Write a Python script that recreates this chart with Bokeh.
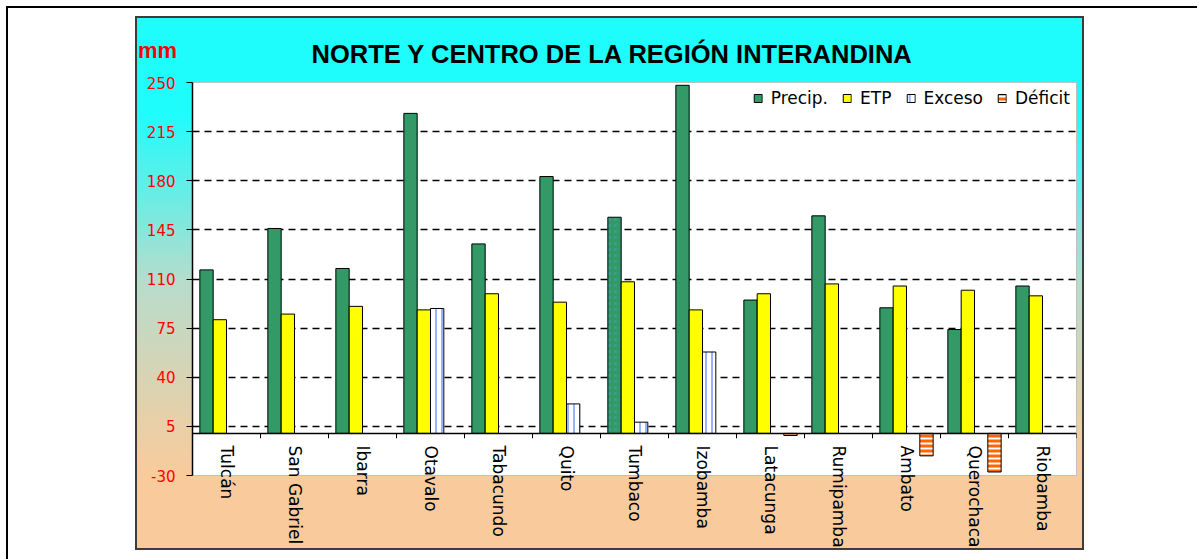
import math
from bokeh.plotting import figure
from bokeh.models import (ColumnDataSource, FactorRange, Range1d, FixedTicker, Title, Span, Div)
from bokeh.layouts import column
from bokeh.transform import dodge
from bokeh.embed import file_html
from bokeh.resources import INLINE

nan = float("nan")

# ---- data ----
categories = ["Tulcán", "San Gabriel", "Ibarra", "Otavalo", "Tabacundo", "Quito", "Tumbaco",
              "Izobamba", "Latacunga", "Rumipamba", "Ambato", "Querochaca", "Riobamba"]
precip = [116.5, 146.0, 117.5, 228.0, 135.0, 183.0, 154.0, 248.0, 95.0, 155.0, 89.5, 74.0, 105.0]
etp = [81.0, 85.0, 90.5, 88.0, 99.5, 93.5, 108.0, 88.0, 99.5, 106.5, 105.0, 102.0, 98.0]
exceso = [nan, nan, nan, 89.0, nan, 21.0, 8.0, 58.0, nan, nan, nan, nan, nan]
deficit = [nan, nan, nan, nan, nan, nan, nan, nan, -1.5, nan, -16.0, -27.5, nan]
precip_pattern = [" ", " ", " ", " ", " ", " ", ".", " ", " ", " ", " ", " ", " "]
y_ticks = [-30, 5, 40, 75, 110, 145, 180, 215, 250]
grid_ticks = [5, 40, 75, 110, 145, 180, 215]

source = ColumnDataSource(dict(cat=categories, precip=precip, etp=etp, exceso=exceso,
                               deficit=deficit, pp=precip_pattern,
                               zero=[0] * len(categories), tick=[-3.5] * len(categories)))

W, H = 1203, 559
bg = ("linear-gradient(to bottom, #1ffcfc 0%, #1ffcfc 18%, #b8dccb 50%, #f9cb9c 86%, #f9cb9c 100%) "
      "137px 18px / 945px 530px no-repeat, "
      "linear-gradient(#3c3c3c, #3c3c3c) 135px 16px / 949px 534px no-repeat, "
      "linear-gradient(#000, #000) 6px 6px / 1191px 2px no-repeat, "
      "linear-gradient(#000, #000) 6px 6px / 2px 553px no-repeat, #ffffff")

p = figure(width=W, height=H, x_range=FactorRange(factors=categories), y_range=Range1d(-30, 250),
           output_backend="svg", toolbar_location=None,
           min_border_left=192, min_border_right=127, min_border_top=82, min_border_bottom=84,
           border_fill_color=None, background_fill_color="#ffffff",
           outline_line_color="#c0c0c0", outline_line_width=1,
           styles={"background": bg})

bw = 0.196
p.vbar(x=dodge("cat", -1.5 * bw, range=p.x_range), top="precip", width=bw, source=source,
       fill_color="#339966", line_color="black", line_width=1,
       hatch_pattern="pp", hatch_color="#3c9c9c", hatch_scale=6, hatch_weight=1.5,
       legend_label="Precip.")
p.vbar(x=dodge("cat", -0.5 * bw, range=p.x_range), top="etp", width=bw, source=source,
       fill_color="#ffff00", line_color="black", line_width=1, legend_label="ETP")
p.vbar(x=dodge("cat", 0.5 * bw, range=p.x_range), top="exceso", width=bw, source=source,
       fill_color="#ffffff", line_color="black", line_width=1,
       hatch_pattern="|", hatch_color="#3366ff", hatch_scale=6, hatch_weight=1,
       legend_label="Exceso")
p.vbar(x=dodge("cat", 1.5 * bw, range=p.x_range), top="deficit", width=bw, source=source,
       fill_color="#ff6600", line_color="black", line_width=1,
       hatch_pattern="-", hatch_color="#ffffff", hatch_scale=5, hatch_weight=2,
       legend_label="Déficit")

# category axis line at zero and category-boundary tick marks
p.add_layout(Span(location=0, dimension="width", line_color="black", line_width=1.5))
p.segment(x0=dodge("cat", 0.5, range=p.x_range), y0="zero",
          x1=dodge("cat", 0.5, range=p.x_range), y1="tick",
          source=source, line_color="black", line_width=1)

# axes
p.yaxis.ticker = FixedTicker(ticks=y_ticks)
p.yaxis.major_label_overrides = {-30: "-30"}
p.yaxis.major_label_text_color = "#ff0000"
p.yaxis.major_label_text_font = "DejaVu Sans"
p.yaxis.major_label_text_font_size = "15px"
p.yaxis.major_tick_out = 6
p.yaxis.major_tick_in = 0
p.yaxis.minor_tick_line_color = None
p.yaxis.major_label_standoff = 11
p.yaxis.axis_line_color = "black"
p.yaxis.axis_line_width = 1.5

p.xaxis.major_label_orientation = -math.pi / 2
p.xaxis.major_label_text_font = "DejaVu Sans"
p.xaxis.major_label_text_font_size = "17px"
p.xaxis.major_label_text_color = "black"
p.xaxis.major_tick_line_color = None
p.xaxis.major_tick_out = 0
p.xaxis.major_tick_in = 0
p.xaxis.major_label_standoff = -30
p.xaxis.axis_line_color = None

p.xgrid.grid_line_color = None
p.ygrid.ticker = FixedTicker(ticks=grid_ticks)
p.ygrid.grid_line_color = "black"
p.ygrid.grid_line_dash = "7 5"
p.ygrid.grid_line_width = 1.5

# legend
p.legend.location = "top_right"
p.legend.orientation = "horizontal"
p.legend.border_line_color = None
p.legend.background_fill_color = "#ffffff"
p.legend.background_fill_alpha = 1
p.legend.label_text_font = "DejaVu Sans"
p.legend.label_text_font_size = "17px"
p.legend.label_text_color = "black"
p.legend.glyph_width = 10
p.legend.glyph_height = 10
p.legend.label_standoff = 8
p.legend.spacing = 14
p.legend.padding = 4
p.legend.margin = 6

# title
p.title = Title(text="NORTE Y CENTRO DE LA REGIÓN INTERANDINA", align="left",
                text_font="Liberation Sans", text_font_size="25.5px", text_font_style="bold",
                text_color="black", standoff=29, offset=119)

# unit label, placed over the chart's top-left corner
unit = Div(text="mm", styles={"position": "absolute", "left": "138px", "top": "40px",
                              "color": "#ff0000", "font-family": "Liberation Sans",
                              "font-weight": "bold", "font-size": "22px", "line-height": "1",
                              "margin": "0", "padding": "0", "z-index": "5"})

layout = column(p, unit, styles={"position": "relative"}, spacing=0)

open("out.html", "w").write(file_html(layout, INLINE))
